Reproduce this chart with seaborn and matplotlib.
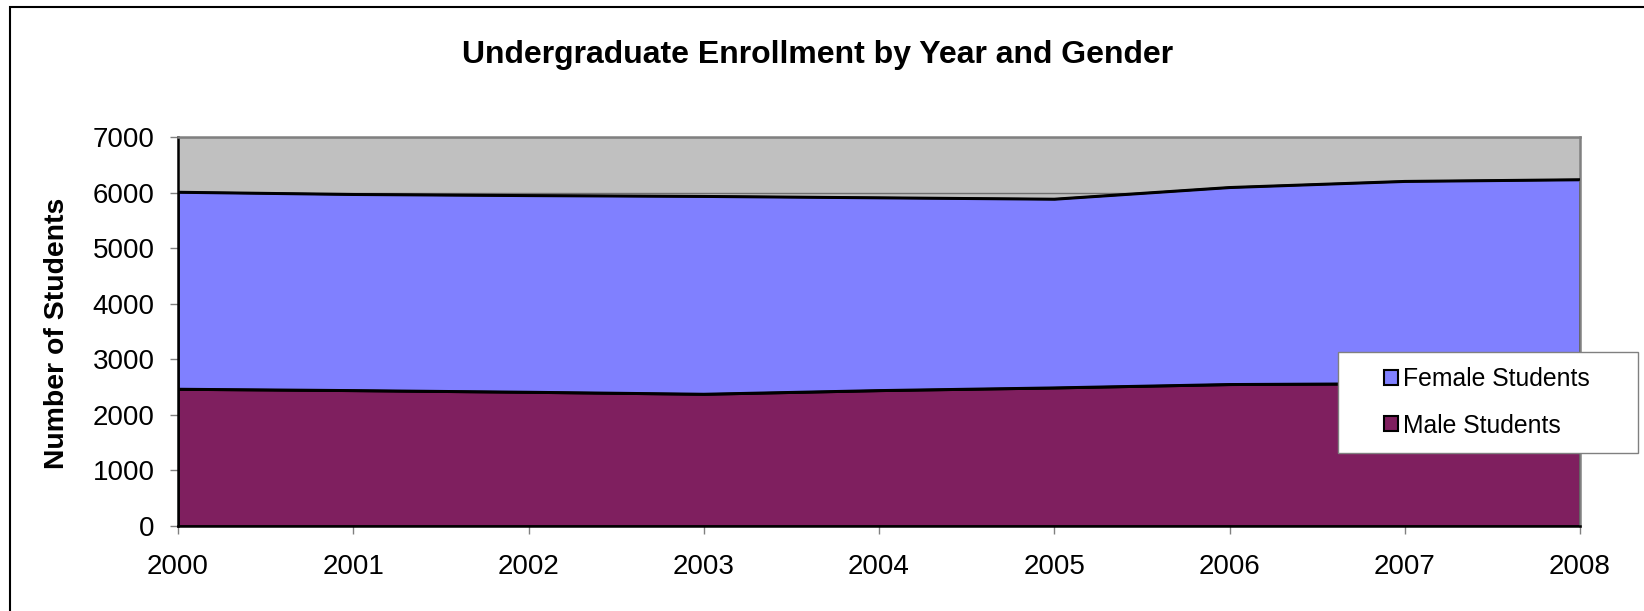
import matplotlib
matplotlib.use("Agg")
import matplotlib.pyplot as plt
import seaborn as sns
import pandas as pd
from matplotlib.patches import Patch, Rectangle

# ---- data ----
years = [2000, 2001, 2002, 2003, 2004, 2005, 2006, 2007, 2008]
male_students = [2465, 2441, 2411, 2375, 2441, 2489, 2550, 2565, 2570]
female_students = [3545, 3529, 3539, 3560, 3469, 3396, 3545, 3640, 3665]
series_labels = ["Female Students", "Male Students"]
y_ticks = [0, 1000, 2000, 3000, 4000, 5000, 6000, 7000]

title = "Undergraduate Enrollment by Year and Gender"
y_label = "Number of Students"

FEMALE_C = "#8080FF"
MALE_C = "#7F1F5F"

sns.set_theme(style="white")
plt.rcParams["font.family"] = ["Liberation Sans", "DejaVu Sans"]
plt.rcParams["text.color"] = "black"
plt.rcParams["axes.labelcolor"] = "black"
plt.rcParams["xtick.color"] = "black"
plt.rcParams["ytick.color"] = "black"

W, H = 1644, 611
fig = plt.figure(figsize=(W / 100, H / 100), dpi=100)
fig.patch.set_facecolor("white")

ax = fig.add_axes([178 / W, 1 - 526 / H, (1580 - 178) / W, (526 - 137) / H])
ax.set_facecolor("#C0C0C0")

ax.stackplot(years, male_students, female_students,
             colors=[MALE_C, FEMALE_C], edgecolor="black", linewidth=1.8, zorder=2)

df = pd.DataFrame({
    "year": years * 2,
    "value": male_students + [m + f for m, f in zip(male_students, female_students)],
    "layer": ["male"] * len(years) + ["total"] * len(years),
})
sns.lineplot(data=df, x="year", y="value", units="layer", estimator=None,
             color="black", linewidth=1.8, ax=ax, zorder=3, legend=False)

ax.set_xlim(years[0], years[-1])
ax.set_ylim(y_ticks[0], y_ticks[-1])
ax.set_xticks(years)
ax.set_xticklabels([str(y) for y in years])
ax.set_yticks(y_ticks)
ax.set_xlabel("")
ax.set_ylabel("")

ax.grid(axis="y", color="#707070", linewidth=1)
ax.grid(axis="x", visible=False)
ax.set_axisbelow(True)

for s in ["top", "right"]:
    ax.spines[s].set_color("#808080")
    ax.spines[s].set_linewidth(1.8)
for s in ["left", "bottom"]:
    ax.spines[s].set_color("black")
    ax.spines[s].set_linewidth(1.8)

ax.tick_params(axis="both", direction="out", length=5.8, width=1, color="#808080",
               labelsize=20, labelcolor="black")
ax.tick_params(axis="y", pad=11, left=True)
ax.tick_params(axis="x", pad=14, bottom=True)

fig.text(818 / W, 1 - 62.7 / H, title, ha="center", va="baseline",
         fontsize=23, fontweight="bold", color="black")
fig.text(57 / W, 1 - 333.5 / H, y_label, ha="center", va="center",
         rotation=90, fontsize=20.4, fontweight="bold", color="black")

# legend box
fig.add_artist(Rectangle((1338 / W, 1 - 453 / H), 300 / W, 101 / H,
                         transform=fig.transFigure, facecolor="white",
                         edgecolor="#808080", linewidth=1, zorder=4))
handles = [Patch(facecolor=FEMALE_C, edgecolor="black", linewidth=1.5, label=series_labels[0]),
           Patch(facecolor=MALE_C, edgecolor="black", linewidth=1.5, label=series_labels[1])]
leg = fig.legend(handles=handles, loc="center", bbox_to_anchor=(1487 / W, 1 - 402.5 / H),
                 frameon=False, fontsize=17.8, handlelength=0.55, handleheight=0.55,
                 handletextpad=0.22, labelspacing=0.9, borderpad=0, borderaxespad=0,
                 labelcolor="black")
leg.set_zorder(5)

# outer border (left and top visible)
fig.add_artist(Rectangle((10 / W, -0.1), 2, 1 - 7.3 / H + 0.1, transform=fig.transFigure,
                         fill=False, edgecolor="black", linewidth=1.5, clip_on=False))

fig.savefig("out.png", dpi=100)
